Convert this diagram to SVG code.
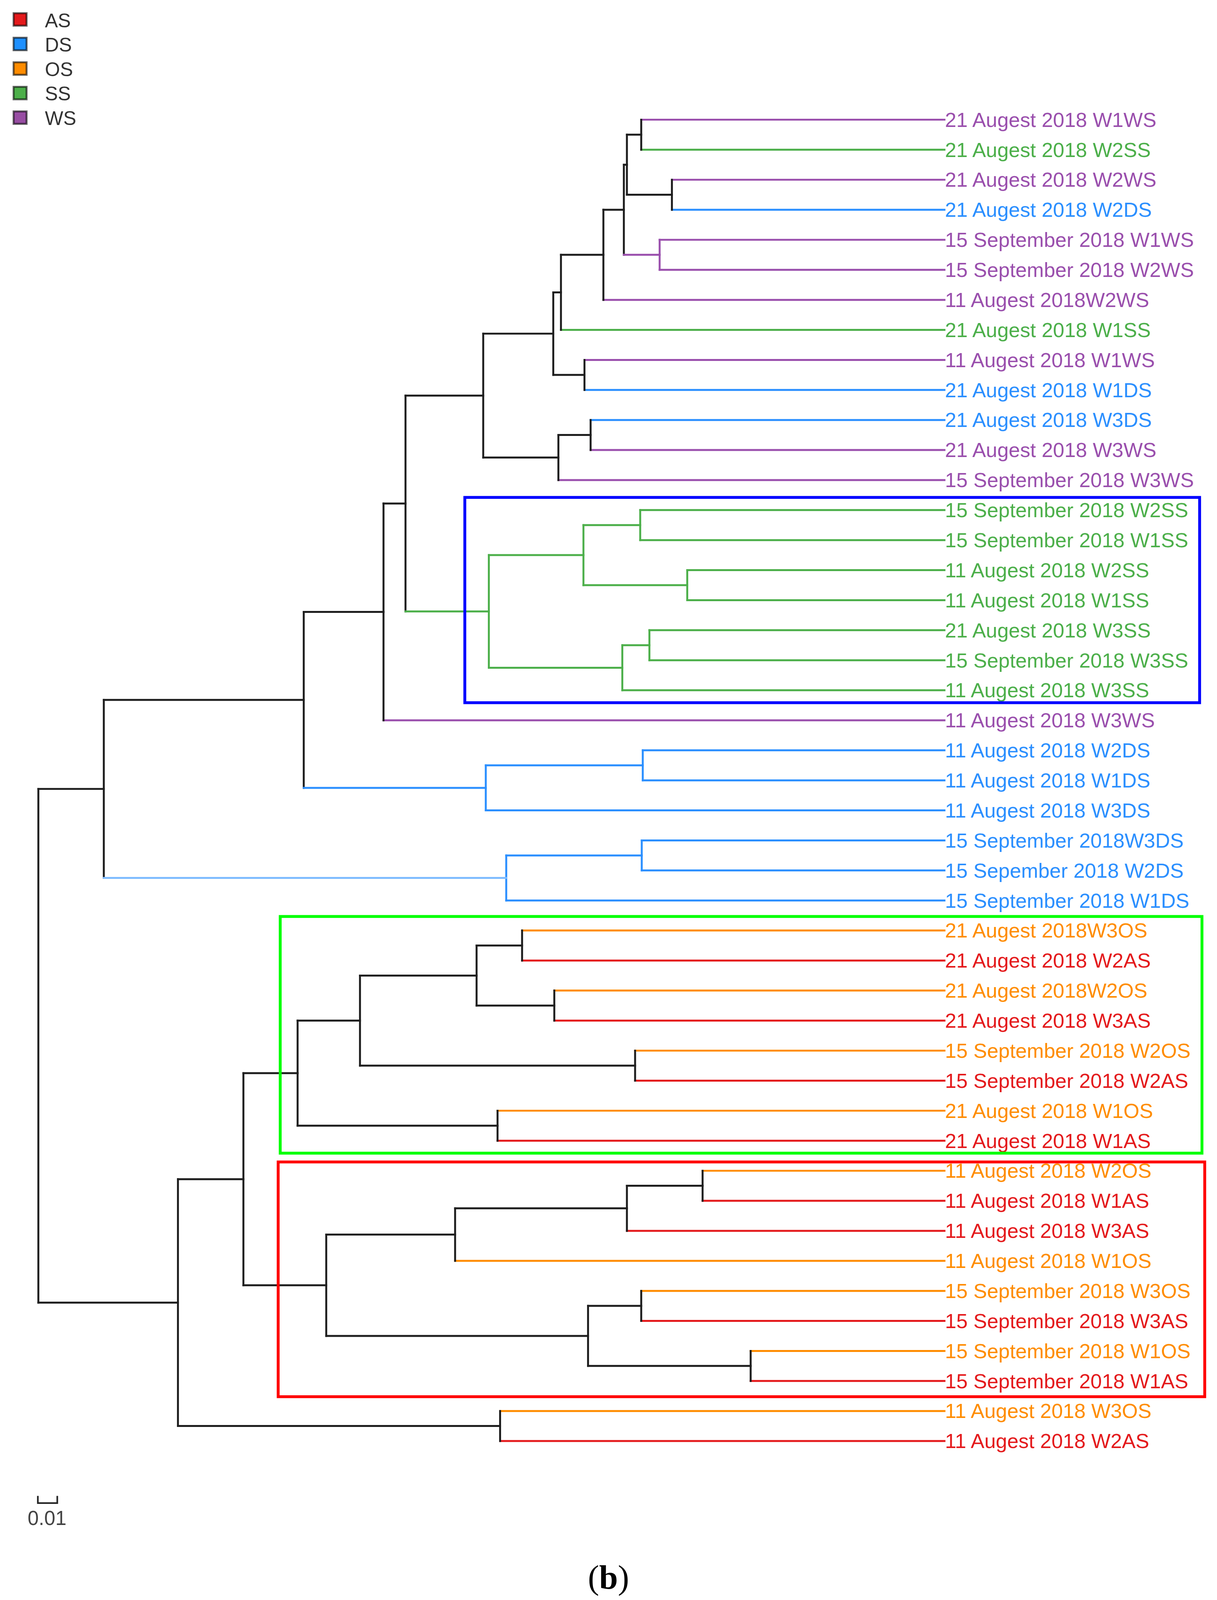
<svg xmlns="http://www.w3.org/2000/svg" width="3116" height="4111" viewBox="0 0 3116 4111">
<style>
.ln{fill:none;stroke-width:1.9;stroke-linecap:square}
.k{stroke:#1e1e1e}.p{stroke:#9a4fad}.g{stroke:#4caf4a}.b{stroke:#2b8fff}.lb{stroke:#7fbcff}.o{stroke:#ff8c00}.r{stroke:#e41a1c}
.t{font-family:"Liberation Sans",Arial,sans-serif;font-size:20px}
.tp{fill:#9a4fad}.tg{fill:#4caf4a}.tb{fill:#2b8fff}.to{fill:#ff8c00}.tr{fill:#e41a1c}
.box{fill:none;stroke-width:2.8}
.lg{font-family:"Liberation Sans",Arial,sans-serif;font-size:19px;fill:#333}
.sw{stroke:#000;stroke-opacity:0.6;stroke-width:1.9}
</style>
<rect width="3116" height="4111" fill="#fff"/>
<g transform="scale(2.6185)">
<g id="legend">
<rect class="sw" x="13.3" y="12.9" width="12.7" height="12.2" fill="#e41a1c"/><text class="lg" x="43.9" y="26.6">AS</text>
<rect class="sw" x="13.3" y="36.9" width="12.7" height="12.2" fill="#1e90ff"/><text class="lg" x="43.9" y="50.3">DS</text>
<rect class="sw" x="13.3" y="60.9" width="12.7" height="12.2" fill="#ff8c00"/><text class="lg" x="43.9" y="74.3">OS</text>
<rect class="sw" x="13.3" y="84.9" width="12.7" height="12.2" fill="#4daf4a"/><text class="lg" x="43.9" y="98.3">SS</text>
<rect class="sw" x="13.3" y="108.9" width="12.7" height="12.2" fill="#984ea3"/><text class="lg" x="43.9" y="122.3">WS</text>
</g>
<g transform="matrix(1 0 0 1.00068 0 -0.0796)">
<g id="connectors">
<!-- leaf branches -->
<path class="ln p" d="M627 117H923.5"/>
<path class="ln g" d="M627 146.34H923.5"/>
<path class="ln p" d="M657 175.68H923.5"/>
<path class="ln b" d="M657 205.02H923.5"/>
<path class="ln p" d="M645 234.36H923.5"/>
<path class="ln p" d="M645 263.7H923.5"/>
<path class="ln p" d="M590 293.04H923.5"/>
<path class="ln g" d="M548.5 322.38H923.5"/>
<path class="ln p" d="M571.5 351.72H923.5"/>
<path class="ln b" d="M571.5 381.06H923.5"/>
<path class="ln b" d="M577.5 410.4H923.5"/>
<path class="ln p" d="M577.5 439.74H923.5"/>
<path class="ln p" d="M546 469.08H923.5"/>
<path class="ln g" d="M626 498.42H923.5"/>
<path class="ln g" d="M626 527.76H923.5"/>
<path class="ln g" d="M672 557.1H923.5"/>
<path class="ln g" d="M672 586.44H923.5"/>
<path class="ln g" d="M635 615.78H923.5"/>
<path class="ln g" d="M635 645.12H923.5"/>
<path class="ln g" d="M608.5 674.46H923.5"/>
<path class="ln p" d="M375 703.8H923.5"/>
<path class="ln b" d="M628.5 733.14H923.5"/>
<path class="ln b" d="M628.5 762.48H923.5"/>
<path class="ln b" d="M475 791.82H923.5"/>
<path class="ln b" d="M627.5 821.16H923.5"/>
<path class="ln b" d="M627.5 850.5H923.5"/>
<path class="ln b" d="M495 879.84H923.5"/>
<path class="ln o" d="M510.5 909.18H923.5"/>
<path class="ln r" d="M510.5 938.52H923.5"/>
<path class="ln o" d="M542 967.86H923.5"/>
<path class="ln r" d="M542 997.2H923.5"/>
<path class="ln o" d="M621 1026.54H923.5"/>
<path class="ln r" d="M621 1055.88H923.5"/>
<path class="ln o" d="M486.5 1085.22H923.5"/>
<path class="ln r" d="M486.5 1114.56H923.5"/>
<path class="ln o" d="M687 1143.9H923.5"/>
<path class="ln r" d="M687 1173.24H923.5"/>
<path class="ln r" d="M613 1202.58H923.5"/>
<path class="ln o" d="M445 1231.92H923.5"/>
<path class="ln o" d="M627 1261.26H923.5"/>
<path class="ln r" d="M627 1290.6H923.5"/>
<path class="ln o" d="M734 1319.94H923.5"/>
<path class="ln r" d="M734 1349.28H923.5"/>
<path class="ln o" d="M489 1378.62H923.5"/>
<path class="ln r" d="M489 1407.96H923.5"/>
<!-- internal verticals -->
<path class="ln k" d="M627 117V146.34M657 175.68V205.02M613 131.67V190.35M610 161.01V249.03M590 205.02V293.04M548.5 249.03V322.38M571.5 351.72V381.06M541 285.7V366.39M577.5 410.4V439.74M546 425.07V469.08M472.5 326.05V447.08"/>
<path class="ln p" d="M645 234.36V263.7"/>
<path class="ln g" d="M626 498.42V527.76M672 557.1V586.44M570.5 513.09V571.77M635 615.78V645.12M608.5 630.45V674.46M478 542.43V652.46"/>
<path class="ln k" d="M396.5 386.56V597.44M375 492V703.8M297 597.9V769.82M101.5 683.86V857.84M37.5 770.85V1272.72"/>
<path class="ln b" d="M628.5 733.14V762.48M475 747.81V791.82M627.5 821.16V850.5M495 835.83V879.84"/>
<path class="ln k" d="M510.5 909.18V938.52M542 967.86V997.2M466 923.85V982.53M621 1026.54V1055.88M352 953.19V1041.21M486.5 1085.22V1114.56M291 997.2V1099.89M687 1143.9V1173.24M613 1158.57V1202.58M445 1180.58V1231.92M627 1261.26V1290.6M734 1319.94V1349.28M575 1275.93V1334.61M319 1206.25V1305.27M238 1048.55V1255.76M489 1378.62V1407.96M174 1152.16V1393.29"/>
<!-- internal stems -->
<path class="ln k" d="M613 131.67H627M613 190.35H657M610 161.01H613M590 205.02H610M548.5 249.03H590M541 285.7H548.5M541 366.39H571.5M472.5 326.05H541M546 425.07H577.5M472.5 447.08H546M396.5 386.56H472.5"/>
<path class="ln p" d="M610 249.03H645"/>
<path class="ln g" d="M570.5 513.09H626M570.5 571.77H672M478 542.43H570.5M608.5 630.45H635M478 652.46H608.5M396.5 597.44H478"/>
<path class="ln k" d="M375 492H396.5M297 597.9H375M101.5 683.86H297M37.5 770.85H101.5"/>
<path class="ln b" d="M475 747.81H628.5M297 769.82H475M495 835.83H627.5"/>
<path class="ln lb" d="M101.5 857.84H495"/>
<path class="ln k" d="M466 923.85H510.5M466 982.53H542M352 953.19H466M352 1041.21H621M291 997.2H352M291 1099.89H486.5M238 1048.55H291M613 1158.57H687M445 1180.58H613M319 1206.25H445M575 1275.93H627M575 1334.61H734M319 1305.27H575M238 1255.76H319M174 1152.16H238M174 1393.29H489M37.5 1272.72H174"/>
</g>
<g id="leaf-01"><text class="t tp" x="924" y="124">21 Augest 2018 W1WS</text></g>
<g id="leaf-02"><text class="t tg" x="924" y="153.34">21 Augest 2018 W2SS</text></g>
<g id="leaf-03"><text class="t tp" x="924" y="182.68">21 Augest 2018 W2WS</text></g>
<g id="leaf-04"><text class="t tb" x="924" y="212.02">21 Augest 2018 W2DS</text></g>
<g id="leaf-05"><text class="t tp" x="924" y="241.36">15 September 2018 W1WS</text></g>
<g id="leaf-06"><text class="t tp" x="924" y="270.7">15 September 2018 W2WS</text></g>
<g id="leaf-07"><text class="t tp" x="924" y="300.04">11 Augest 2018W2WS</text></g>
<g id="leaf-08"><text class="t tg" x="924" y="329.38">21 Augest 2018 W1SS</text></g>
<g id="leaf-09"><text class="t tp" x="924" y="358.72">11 Augest 2018 W1WS</text></g>
<g id="leaf-10"><text class="t tb" x="924" y="388.06">21 Augest 2018 W1DS</text></g>
<g id="leaf-11"><text class="t tb" x="924" y="417.4">21 Augest 2018 W3DS</text></g>
<g id="leaf-12"><text class="t tp" x="924" y="446.74">21 Augest 2018 W3WS</text></g>
<g id="leaf-13"><text class="t tp" x="924" y="476.08">15 September 2018 W3WS</text></g>
<g id="leaf-14"><text class="t tg" x="924" y="505.42">15 September 2018 W2SS</text></g>
<g id="leaf-15"><text class="t tg" x="924" y="534.76">15 September 2018 W1SS</text></g>
<g id="leaf-16"><text class="t tg" x="924" y="564.1">11 Augest 2018 W2SS</text></g>
<g id="leaf-17"><text class="t tg" x="924" y="593.44">11 Augest 2018 W1SS</text></g>
<g id="leaf-18"><text class="t tg" x="924" y="622.78">21 Augest 2018 W3SS</text></g>
<g id="leaf-19"><text class="t tg" x="924" y="652.12">15 September 2018 W3SS</text></g>
<g id="leaf-20"><text class="t tg" x="924" y="681.46">11 Augest 2018 W3SS</text></g>
<g id="leaf-21"><text class="t tp" x="924" y="710.8">11 Augest 2018 W3WS</text></g>
<g id="leaf-22"><text class="t tb" x="924" y="740.14">11 Augest 2018 W2DS</text></g>
<g id="leaf-23"><text class="t tb" x="924" y="769.48">11 Augest 2018 W1DS</text></g>
<g id="leaf-24"><text class="t tb" x="924" y="798.82">11 Augest 2018 W3DS</text></g>
<g id="leaf-25"><text class="t tb" x="924" y="828.16">15 September 2018W3DS</text></g>
<g id="leaf-26"><text class="t tb" x="924" y="857.5">15 Sepember 2018 W2DS</text></g>
<g id="leaf-27"><text class="t tb" x="924" y="886.84">15 September 2018 W1DS</text></g>
<g id="leaf-28"><text class="t to" x="924" y="916.18">21 Augest 2018W3OS</text></g>
<g id="leaf-29"><text class="t tr" x="924" y="945.52">21 Augest 2018 W2AS</text></g>
<g id="leaf-30"><text class="t to" x="924" y="974.86">21 Augest 2018W2OS</text></g>
<g id="leaf-31"><text class="t tr" x="924" y="1004.2">21 Augest 2018 W3AS</text></g>
<g id="leaf-32"><text class="t to" x="924" y="1033.54">15 September 2018 W2OS</text></g>
<g id="leaf-33"><text class="t tr" x="924" y="1062.88">15 September 2018 W2AS</text></g>
<g id="leaf-34"><text class="t to" x="924" y="1092.22">21 Augest 2018 W1OS</text></g>
<g id="leaf-35"><text class="t tr" x="924" y="1121.56">21 Augest 2018 W1AS</text></g>
<g id="leaf-36"><text class="t to" x="924" y="1150.9">11 Augest 2018 W2OS</text></g>
<g id="leaf-37"><text class="t tr" x="924" y="1180.24">11 Augest 2018 W1AS</text></g>
<g id="leaf-38"><text class="t tr" x="924" y="1209.58">11 Augest 2018 W3AS</text></g>
<g id="leaf-39"><text class="t to" x="924" y="1238.92">11 Augest 2018 W1OS</text></g>
<g id="leaf-40"><text class="t to" x="924" y="1268.26">15 September 2018 W3OS</text></g>
<g id="leaf-41"><text class="t tr" x="924" y="1297.6">15 September 2018 W3AS</text></g>
<g id="leaf-42"><text class="t to" x="924" y="1326.94">15 September 2018 W1OS</text></g>
<g id="leaf-43"><text class="t tr" x="924" y="1356.28">15 September 2018 W1AS</text></g>
<g id="leaf-44"><text class="t to" x="924" y="1385.62">11 Augest 2018 W3OS</text></g>
<g id="leaf-45"><text class="t tr" x="924" y="1414.96">11 Augest 2018 W2AS</text></g>
</g>
<g id="box-blue"><rect class="box" x="454.5" y="486.3" width="718.5" height="200.7" stroke="#0000ff"/></g>
<g id="box-green"><rect class="box" x="274" y="896" width="901.3" height="231.4" stroke="#00ff00"/></g>
<g id="box-red"><rect class="box" x="272" y="1136" width="906" height="229.5" stroke="#ff0000"/></g>
<g id="scale-bar">
<path d="M37 1462.5V1469.5H56V1462.5" fill="none" stroke="#262626" stroke-width="1.6"/>
<text x="27" y="1491" style="font-family:'Liberation Sans',Arial,sans-serif;font-size:19.5px;fill:#444">0.01</text>
</g>
<g id="caption">
<text x="595" y="1553" text-anchor="middle" style="font-family:'Liberation Serif','Times New Roman',serif;font-size:33px;fill:#000">(<tspan font-weight="bold">b</tspan>)</text>
</g>
</g>
</svg>
